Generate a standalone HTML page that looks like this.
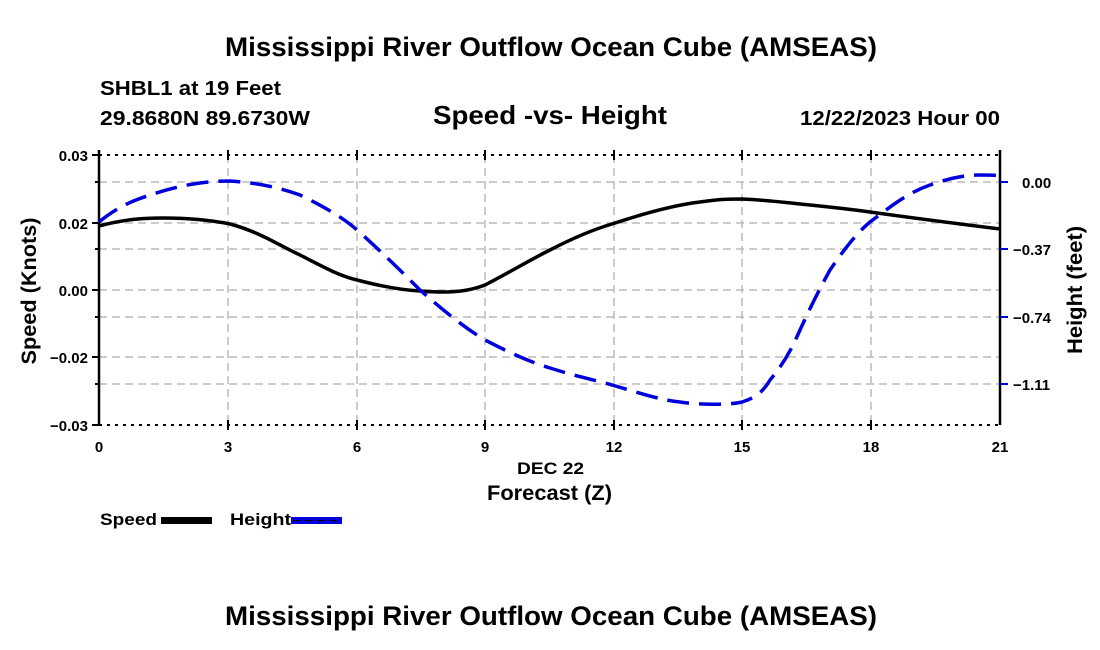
<!DOCTYPE html>
<html><head><style>
body{margin:0;background:#fff;}
svg{display:block;font-family:"Liberation Sans",sans-serif;font-weight:bold;}
</style></head><body>
<svg width="1100" height="650" viewBox="0 0 1100 650">
<rect width="1100" height="650" fill="#fff"/>
<text x="225" y="56" font-size="27" textLength="652" lengthAdjust="spacingAndGlyphs">Mississippi River Outflow Ocean Cube (AMSEAS)</text>
<text x="100" y="95" font-size="20" textLength="181" lengthAdjust="spacingAndGlyphs">SHBL1 at 19 Feet</text>
<text x="100" y="125" font-size="20" textLength="210" lengthAdjust="spacingAndGlyphs">29.8680N  89.6730W</text>
<text x="433" y="124" font-size="26" textLength="234" lengthAdjust="spacingAndGlyphs">Speed -vs- Height</text>
<text x="800" y="125" font-size="20" textLength="200" lengthAdjust="spacingAndGlyphs">12/22/2023 Hour 00</text>
<g stroke="#bbb" stroke-width="1.5" stroke-dasharray="8,5" fill="none">
<line x1="99" y1="182" x2="1000" y2="182"/><line x1="99" y1="223" x2="1000" y2="223"/>
<line x1="99" y1="249" x2="1000" y2="249"/><line x1="99" y1="290" x2="1000" y2="290"/>
<line x1="99" y1="317" x2="1000" y2="317"/><line x1="99" y1="357" x2="1000" y2="357"/>
<line x1="99" y1="384" x2="1000" y2="384"/>
<line x1="228" y1="155" x2="228" y2="425"/><line x1="357" y1="155" x2="357" y2="425"/>
<line x1="485" y1="155" x2="485" y2="425"/><line x1="614" y1="155" x2="614" y2="425"/>
<line x1="742" y1="155" x2="742" y2="425"/><line x1="871" y1="155" x2="871" y2="425"/>
</g>
<g stroke="#000" stroke-width="2" fill="none">
<line x1="99" y1="155" x2="1000" y2="155" stroke-dasharray="3,5"/>
<line x1="99" y1="425" x2="1000" y2="425" stroke-dasharray="3,5"/>
<line x1="99" y1="150" x2="99" y2="425" stroke-width="2.5"/>
<line x1="1000" y1="150" x2="1000" y2="425" stroke-width="2.5"/>
<path d="M92 155H99M92 223H99M92 290H99M92 357H99M92 425H99M95 182H99M95 249H99M95 317H99M95 384H99"/>
<path d="M228 150V160M357 150V160M485 150V160M614 150V160M742 150V160M871 150V160M228 420V430M357 420V430M485 420V430M614 420V430M742 420V430M871 420V430"/>
</g>
<path d="M1000 182H1008M1000 249H1008M1000 317H1008M1000 384H1008" stroke="#00c" stroke-width="2"/>
<g font-size="15" text-anchor="end">
<text x="88" y="161">0.03</text><text x="88" y="229">0.02</text><text x="88" y="296">0.00</text>
<text x="88" y="363">−0.02</text><text x="88" y="431">−0.03</text></g>
<g font-size="15">
<text x="1022" y="188">0.00</text><text x="1013" y="255">−0.37</text>
<text x="1013" y="323">−0.74</text><text x="1013" y="390">−1.11</text></g>
<g font-size="15" text-anchor="middle">
<text x="99" y="452">0</text><text x="228" y="452">3</text><text x="357" y="452">6</text>
<text x="485" y="452">9</text><text x="614" y="452">12</text><text x="742" y="452">15</text>
<text x="871" y="452">18</text><text x="1000" y="452">21</text></g>
<text x="517" y="474" font-size="17" textLength="67" lengthAdjust="spacingAndGlyphs">DEC 22</text>
<text x="487" y="500" font-size="21" textLength="125" lengthAdjust="spacingAndGlyphs">Forecast (Z)</text>
<text transform="translate(36,291) rotate(-90)" font-size="21" text-anchor="middle" textLength="147" lengthAdjust="spacingAndGlyphs">Speed (Knots)</text>
<text transform="translate(1082,290) rotate(-90)" font-size="21" text-anchor="middle" textLength="128" lengthAdjust="spacingAndGlyphs">Height (feet)</text>
<path d="M99 226 C125 219,145 218,163 218 C190 218,210 220,230 224 C260 232,280 246,300 255 C325 268,340 276,357 280 C380 286,400 290,420 291 C430 292,440 292,445 292 C460 292,472 290,485 285 C510 272,530 260,550 250 C575 237,595 229,612 224 C645 213,675 205,700 202 C720 199,730 199,742 199 C765 200,780 202,800 204 C830 207,850 209,870 212 C920 219,960 224,1000 229" fill="none" stroke="#000" stroke-width="3.5"/>
<path d="M99 222 C120 205,135 200,150 195 C180 185,205 181,230 181 C260 183,280 188,300 195 C325 207,345 219,357 230 C385 255,405 275,420 290 C445 312,465 328,485 340 C510 353,530 362,550 368 C575 376,595 380,612 385 C640 393,660 400,680 402 C700 405,730 405,742 402 C755 398,763 392,770 380 C785 362,792 348,800 330 C810 308,820 288,830 270 C845 248,857 233,870 222 C895 203,910 192,930 185 C950 178,965 175,980 175 C990 175,995 175,1000 176" fill="none" stroke="#0000dd" stroke-width="3.5" stroke-dasharray="22,10"/>
<text x="100" y="525" font-size="17" textLength="57" lengthAdjust="spacingAndGlyphs">Speed</text>
<rect x="161" y="517" width="51" height="7" fill="#000"/>
<text x="230" y="525" font-size="17" textLength="61" lengthAdjust="spacingAndGlyphs">Height</text>
<rect x="291" y="517" width="51" height="7" fill="#0000dd"/>
<path d="M293 520.5H340" stroke="#000" stroke-width="1" stroke-dasharray="8,4"/>
<text x="225" y="625" font-size="27" textLength="652" lengthAdjust="spacingAndGlyphs">Mississippi River Outflow Ocean Cube (AMSEAS)</text>
</svg>
</body></html>
